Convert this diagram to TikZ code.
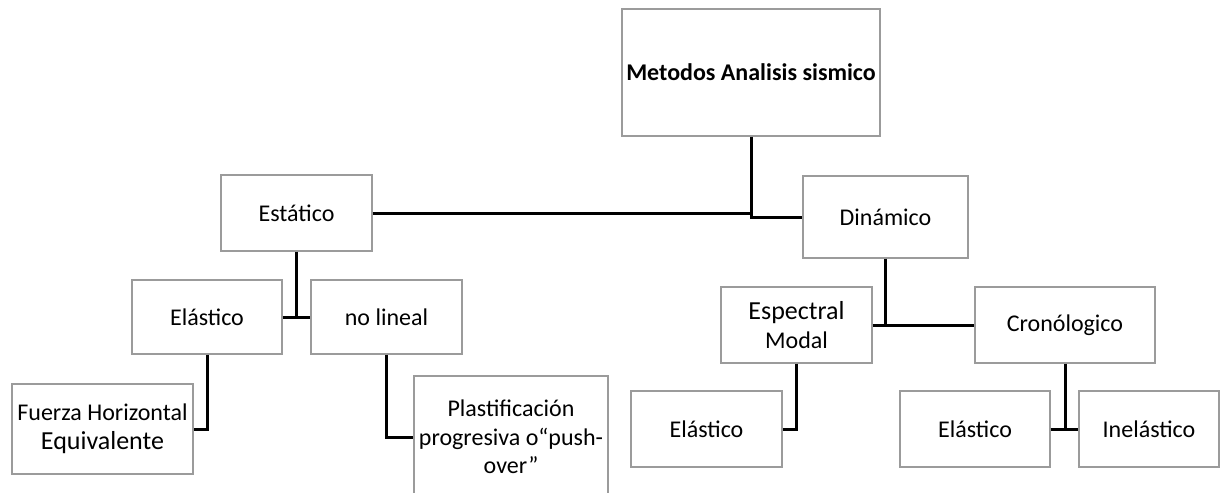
\documentclass[tikz,border=0pt]{standalone}
\usepackage{fontspec}
\setmainfont{Carlito}
\usepackage{tikz}
\usetikzlibrary{positioning}
\definecolor{borde}{RGB}{155,155,155}
\tikzset{
  caja/.style={draw=borde, line width=0.6pt, rectangle, align=center, inner sep=2pt,
    font=\fontsize{12}{14.3}\selectfont},
  enlace/.style={draw=black, line width=1.5pt}
}

\begin{document}
\begin{tikzpicture}[x=0.5pt, y=-0.5pt]
                \clip (0,0) rectangle (1222,493);
                \node[caja, minimum width=129pt, minimum height=63.5pt, font=\fontsize{12}{14.3}\selectfont\bfseries] (metodos) at (751,72.5) {Metodos Analisis sismico};
                \node[caja, minimum width=75.5pt, minimum height=38pt] (estatico) at (296.5,213) {Estático};
                \node[caja, minimum width=82.5pt, minimum height=41pt] (dinamico) at (885.5,217) {Dinámico};
                \node[caja, minimum width=75pt, minimum height=37pt] (elasticoA) at (207,317) {Elástico};
                \node[caja, minimum width=75.5pt, minimum height=37pt] (nolineal) at (386.5,317) {no lineal};
                \node[caja, minimum width=90.5pt, minimum height=45pt] (fuerza) at (102.5,429) {Fuerza Horizontal\\{\fontsize{13}{14.3}\selectfont Equivalente}};
                \node[caja, minimum width=97pt, minimum height=61pt] (plast) at (511,437) {Plastificación\\progresiva o“push-\\over”};
                \node[caja, minimum width=75.5pt, minimum height=38pt] (espectral) at (796.5,325) {{\fontsize{13}{14.3}\selectfont Espectral}\\Modal};
                \node[caja, minimum width=90pt, minimum height=38pt] (crono) at (1065,325) {Cronólogico};
                \node[caja, minimum width=75.5pt, minimum height=38pt] (elasticoB) at (706.5,429) {Elástico};
                \node[caja, minimum width=75pt, minimum height=38pt] (elasticoC) at (975,429) {Elástico};
                \node[caja, minimum width=70pt, minimum height=38pt] (inelastico) at (1149,429) {Inelástico};
                \draw[enlace] (estatico.east) -- (estatico.east -| metodos.south);
                \draw[enlace] (metodos.south) |- (dinamico.west);
                \draw[enlace] (elasticoA.east) -- (nolineal.west);
                \draw[enlace] (estatico.south) -- (estatico.south |- nolineal.west);
                \draw[enlace] (elasticoA.south) |- (fuerza.east);
                \draw[enlace] (nolineal.south) |- (plast.west);
                \draw[enlace] (espectral.east) -- (crono.west);
                \draw[enlace] (dinamico.south) -- (dinamico.south |- crono.west);
                \draw[enlace] (espectral.south) |- (elasticoB.east);
                \draw[enlace] (elasticoC.east) -- (inelastico.west);
                \draw[enlace] (crono.south) -- (crono.south |- inelastico.west);
            \end{tikzpicture}
\end{document}
